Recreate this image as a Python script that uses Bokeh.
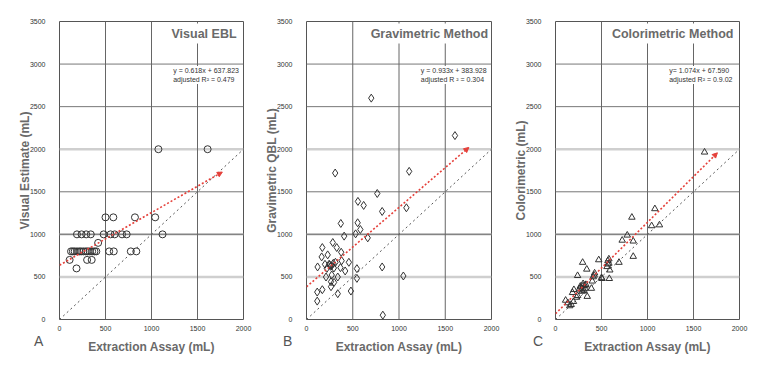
from bokeh.plotting import figure
from bokeh.layouts import row, column
from bokeh.models import FixedTicker, Span, Label, Arrow, NormalHead, Range1d, Div
from bokeh.embed import file_html
from bokeh.resources import INLINE

FONT = "Liberation Sans"

# ---------------- data ----------------
a_x = [1075, 1610,
       500, 585, 820, 1040,
       190, 240, 290, 340, 480, 555, 600, 680, 730, 1120,
       420,
       125, 145, 165, 190, 215, 235, 260, 285, 305, 330, 355, 380, 400, 540, 590, 775, 835,
       110, 300, 350,
       185]
a_y = [2000, 2000,
       1200, 1200, 1200, 1200,
       1000, 1000, 1000, 1000, 1000, 1000, 1000, 1000, 1000, 1000,
       900,
       800, 800, 800, 800, 800, 800, 800, 800, 800, 800, 800, 800, 800, 800, 800, 800, 800,
       700, 700, 700,
       600]

b_x = [700, 1605, 310, 1110, 765, 556, 618, 818, 1080, 371, 553, 582, 531, 407, 662,
       171, 284, 327, 375, 164, 229, 120, 200, 245, 250, 260, 313, 458, 367, 418, 545,
       818, 211, 273, 338, 545, 1047, 265, 298, 265, 171, 116, 338, 480, 116, 825,
       220, 296, 290, 380, 270]
b_y = [2600, 2160, 1720, 1740, 1480, 1387, 1340, 1269, 1312, 1128, 1136, 1057, 1006, 979, 959,
       845, 904, 845, 790, 735, 759, 617, 648, 650, 640, 625, 672, 672, 609, 570, 597,
       617, 499, 523, 499, 483, 511, 444, 436, 385, 350, 322, 303, 334, 216, 51,
       600, 605, 660, 690, 630]

c_x = [1620, 830, 1080, 1045, 1130, 780, 725, 845, 845, 690, 470, 580, 570, 570, 590,
       295, 340, 240, 425, 410, 400, 500, 505, 585, 270, 300, 330, 285, 320, 390, 200,
       185, 240, 345, 110, 135, 170, 195, 155,
       290, 310, 275, 300, 320, 260, 230, 420, 560, 580]
c_y = [1965, 1200, 1300, 1100, 1110, 990, 930, 920, 740, 670, 700, 710, 690, 650, 580,
       670, 590, 515, 545, 500, 450, 490, 480, 480, 390, 395, 410, 355, 365, 365, 350,
       315, 280, 270, 225, 195, 175, 210, 160,
       330, 340, 380, 420, 400, 360, 260, 520, 620, 660]

slopes = [0.618, 0.933, 1.074]
intercepts = [637.823, 383.928, 67.590]
fit_x_end = [1770, 1755, 1760]
identity_x = [0, 2000]

titles = ["Visual EBL", "Gravimetric Method", "Colorimetric Method"]
y_labels = ["Visual Estimate (mL)", "Gravimetric QBL (mL)", "Colorimetric (mL)"]
x_label = "Extraction Assay (mL)"
eq_line1 = ["y = 0.618x + 637.823", "y = 0.933x + 383.928", "y= 1.074x + 67.590"]
eq_line2 = ["adjusted R\u00b2 = 0.479", "adjusted R \u00b2 = 0.304", "adjusted R\u00b2 = 0.9.02"]
letters = ["A", "B", "C"]
markers = ["circle", "diamond", "triangle"]
marker_sizes = [7, 8, 6.5]
title_x = [1957, 1995, 1967]

x_ticks = [0, 500, 1000, 1500, 2000]
y_ticks = [0, 500, 1000, 1500, 2000, 2500, 3000, 3500]
grid_x = [500, 1000, 1500]
grid_y_dark = [1000, 1500, 2500, 3000]
grid_y_light = [500, 1000, 2000]

# layout (pixels)
widths = [256, 249, 247]
left_borders = [59, 50, 50]
right_borders = [13, 14, 13]
letter_left = [34, 27, 28]

RED = "#e5403a"
GREY_TXT = "#6a6a6a"

cols = []
for i in range(3):
    xs = [a_x, b_x, c_x][i]
    ys = [a_y, b_y, c_y][i]
    p = figure(width=widths[i], height=360, output_backend="svg", toolbar_location=None,
               x_range=Range1d(0, 2000), y_range=Range1d(0, 3500),
               min_border_left=left_borders[i], min_border_right=right_borders[i],
               min_border_top=21, min_border_bottom=41)
    p.xgrid.visible = False
    p.ygrid.visible = False
    p.outline_line_color = "#555555"
    p.outline_line_width = 1
    p.background_fill_color = "white"
    p.border_fill_color = "white"

    for v in grid_y_light:
        p.add_layout(Span(location=v, dimension="width", line_color="#cfcfcf",
                          line_width=2.5, level="underlay"))
    for v in grid_y_dark:
        p.add_layout(Span(location=v, dimension="width", line_color="#777777",
                          line_width=1, level="underlay"))
    for v in grid_x:
        p.add_layout(Span(location=v, dimension="height", line_color="#666666",
                          line_width=1, level="underlay"))

    # axes
    for ax in (p.xaxis[0], p.yaxis[0]):
        ax.axis_line_color = None
        ax.major_tick_line_color = None
        ax.minor_tick_line_color = None
        ax.major_label_text_font = FONT
        ax.major_label_text_font_size = "7px"
        ax.major_label_text_color = "#333333"
        ax.axis_label_text_font = FONT
        ax.axis_label_text_font_style = "bold"
        ax.axis_label_text_font_size = "12px"
        ax.axis_label_text_color = GREY_TXT
    p.xaxis.ticker = FixedTicker(ticks=x_ticks)
    p.yaxis.ticker = FixedTicker(ticks=y_ticks)
    p.xaxis.major_label_standoff = 0
    p.yaxis.major_label_standoff = 8
    p.xaxis.axis_label_standoff = 6
    p.yaxis.axis_label_standoff = -5
    p.xaxis.axis_label = x_label
    p.yaxis.axis_label = y_labels[i]

    # identity line
    p.line(identity_x, identity_x, line_color="#555555", line_width=1, line_dash="2 3")

    # fit line with arrow
    y0 = intercepts[i]
    y1 = slopes[i] * fit_x_end[i] + intercepts[i]
    p.add_layout(Arrow(x_start=0, y_start=y0, x_end=fit_x_end[i], y_end=y1,
                       line_color=RED, line_width=1.6, line_dash="2 2",
                       end=NormalHead(size=5, fill_color=RED, line_color=RED, line_width=1)))

    # points
    p.scatter(xs, ys, marker=markers[i], size=marker_sizes[i], fill_color=None,
              line_color="#333333", line_width=1)

    # title
    p.add_layout(Label(x=title_x[i], y=3359, text=titles[i], text_align="right",
                       text_baseline="middle", text_font=FONT, text_font_style="bold",
                       text_font_size="12.5px", text_color=GREY_TXT,
                       background_fill_color="white", padding=3))
    # equations
    p.add_layout(Label(x=1225, y=2924, text=eq_line1[i], text_align="left",
                       text_baseline="middle", text_font=FONT, text_font_size="7px",
                       text_color="#333333", background_fill_color="white", padding=1))
    p.add_layout(Label(x=1225, y=2819, text=eq_line2[i], text_align="left",
                       text_baseline="middle", text_font=FONT, text_font_size="7px",
                       text_color="#333333", background_fill_color="white", padding=1))

    # panel letter, overlaid in the bottom-left corner
    d = Div(text=letters[i], width=16, height=18, margin=(-27, 0, 0, letter_left[i]),
            styles={"font-family": FONT, "font-size": "14px", "color": "#555555",
                    "line-height": "16px"})
    cols.append(column(p, d, spacing=0))

layout = row(*cols, spacing=0)
open("out.html", "w").write(file_html(layout, INLINE))
